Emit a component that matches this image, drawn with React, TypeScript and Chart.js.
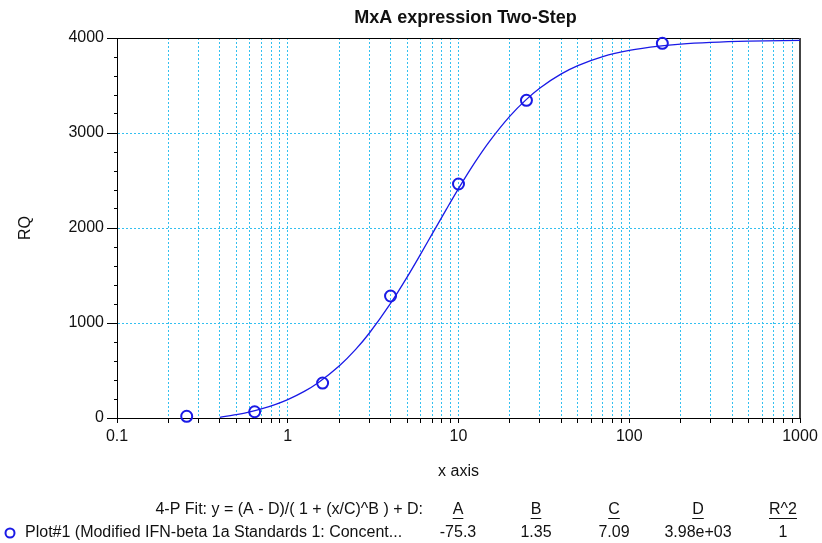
import React, { useEffect, useRef } from 'react';
import { Chart, registerables } from 'chart.js';

Chart.register(...registerables);

// ---- text ----
const chartTitle = 'MxA expression Two-Step';
const xAxisTitle = 'x axis';
const yAxisTitle = 'RQ';
const fitFormula = '4-P Fit: y = (A - D)/( 1 + (x/C)^B ) + D:';
const plotName = 'Plot#1 (Modified IFN-beta 1a Standards 1: Concent...';
const fitParamHeaders = ['A', 'B', 'C', 'D', 'R^2'];
const fitParamValues = ['-75.3', '1.35', '7.09', '3.98e+03', '1'];

// ---- data: standards (circles) ----
const standardX = [0.256, 0.64, 1.6, 4, 10, 25, 156.25];
const standardRQ = [18, 66, 368, 1284, 2463, 3344, 3944];

// ---- data: fitted curve ----
const fitX = [0.4, 0.5, 0.6, 0.7, 0.85, 1, 1.25, 1.5, 2, 2.5, 3, 4, 5, 6, 7, 8.5, 10, 12.5, 15, 20, 25, 30, 40, 50, 70, 100, 150, 200, 300, 500, 1000];
const fitY = [7, 35, 64, 95, 144, 194, 280, 369, 547, 722, 892, 1206, 1483, 1725, 1935, 2199, 2415, 2693, 2899, 3178, 3354, 3474, 3622, 3709, 3804, 3869, 3915, 3936, 3954, 3967, 3975];

// ---- ticks ----
const xTickValues = [
  0.1, 0.2, 0.3, 0.4, 0.5, 0.6, 0.7, 0.8, 0.9,
  1, 2, 3, 4, 5, 6, 7, 8, 9,
  10, 20, 30, 40, 50, 60, 70, 80, 90,
  100, 200, 300, 400, 500, 600, 700, 800, 900,
  1000,
];
const xMajorValues = [0.1, 1, 10, 100, 1000];
const xMajorLabels = ['0.1', '1', '10', '100', '1000'];
const yTickValues = [0, 200, 400, 600, 800, 1000, 1200, 1400, 1600, 1800, 2000, 2200, 2400, 2600, 2800, 3000, 3200, 3400, 3600, 3800, 4000];
const yMajorValues = [0, 1000, 2000, 3000, 4000];
const yMajorLabels = ['0', '1000', '2000', '3000', '4000'];

const FONT = "'Liberation Sans', Arial, Helvetica, sans-serif";
const BLUE = '#1a1ae6';
const GRID = '#33c0f0';
const CLEAR = 'rgba(0,0,0,0)';

const decorPlugin = {
  id: 'decor',
  beforeDatasetsDraw(chart: any) {
    const { ctx, chartArea } = chart;
    ctx.save();
    ctx.strokeStyle = '#000';
    ctx.lineWidth = 1;
    ctx.beginPath();
    ctx.moveTo(chartArea.left, chartArea.top + 0.5);
    ctx.lineTo(chartArea.right, chartArea.top + 0.5);
    ctx.stroke();
    ctx.strokeStyle = '#444';
    ctx.lineWidth = 2;
    ctx.beginPath();
    ctx.moveTo(chartArea.right, chartArea.top);
    ctx.lineTo(chartArea.right, chartArea.bottom);
    ctx.stroke();
    ctx.restore();
  },
  afterDraw(chart: any) {
    const { ctx, chartArea } = chart;
    ctx.save();
    ctx.fillStyle = '#111';
    // title
    ctx.font = `bold 18px ${FONT}`;
    ctx.textAlign = 'center';
    ctx.textBaseline = 'middle';
    ctx.fillText(chartTitle, (chartArea.left + chartArea.right) / 2 + 7, 18);

    // fit table
    ctx.font = `16px ${FONT}`;
    ctx.textAlign = 'right';
    ctx.fillText(fitFormula, 423, 510);
    const colX = [458, 536, 614, 698, 783];
    ctx.textAlign = 'center';
    ctx.strokeStyle = '#111';
    ctx.lineWidth = 1;
    fitParamHeaders.forEach((h, i) => {
      ctx.fillText(h, colX[i], 510);
      const w = ctx.measureText(h).width;
      ctx.beginPath();
      ctx.moveTo(colX[i] - w / 2, 518.5);
      ctx.lineTo(colX[i] + w / 2, 518.5);
      ctx.stroke();
    });
    fitParamValues.forEach((v, i) => {
      ctx.fillText(v, colX[i], 533);
    });
    ctx.textAlign = 'left';
    ctx.fillText(plotName, 25, 533);
    // legend marker
    ctx.strokeStyle = BLUE;
    ctx.lineWidth = 2;
    ctx.beginPath();
    ctx.arc(10, 533, 4.5, 0, Math.PI * 2);
    ctx.stroke();
    ctx.restore();
  },
};

export default function App() {
  const canvasRef = useRef<HTMLCanvasElement | null>(null);

  useEffect(() => {
    document.body.style.margin = '0';
    const canvas = canvasRef.current;
    if (!canvas) return;
    const chart = new Chart(canvas, {
      type: 'line',
      data: {
        datasets: [
          {
            label: 'Standards',
            data: standardX.map((x, i) => ({ x, y: standardRQ[i] })),
            showLine: false,
            pointRadius: 5.5,
            pointBorderWidth: 2,
            pointBorderColor: BLUE,
            pointBackgroundColor: CLEAR,
            pointStyle: 'circle',
            clip: false,
          },
          {
            label: 'Fit',
            data: fitX.map((x, i) => ({ x, y: fitY[i] })),
            borderColor: BLUE,
            borderWidth: 1.3,
            pointRadius: 0,
            cubicInterpolationMode: 'monotone',
            fill: false,
          },
        ],
      },
      options: {
        responsive: false,
        animation: false,
        devicePixelRatio: 1,
        layout: { padding: { left: 0, right: 22, top: 38, bottom: 0 } },
        plugins: {
          legend: { display: false },
          tooltip: { enabled: false },
          title: { display: false },
        },
        scales: {
          x: {
            type: 'logarithmic',
            min: 0.1,
            max: 1000,
            afterBuildTicks: (scale: any) => {
              scale.ticks = xTickValues.map((v) => ({ value: v, major: xMajorValues.includes(v) }));
            },
            afterFit: (scale: any) => {
              scale.height = 125;
            },
            ticks: {
              autoSkip: false,
              maxRotation: 0,
              minRotation: 0,
              padding: 4,
              color: '#111',
              font: { family: FONT, size: 16 },
              callback: (value: any) => {
                const i = xMajorValues.indexOf(Number(value));
                return i >= 0 ? xMajorLabels[i] : '';
              },
            },
            grid: {
              color: (c: any) => {
                const v = c.tick ? c.tick.value : null;
                return v === 0.1 || v === 1000 ? CLEAR : GRID;
              },
              lineWidth: 1,
              drawTicks: true,
              tickLength: 5,
              tickColor: '#000',
              tickWidth: 1,
              tickBorderDash: [],
            },
            border: { display: true, color: '#000', width: 1, dash: [2, 2] },
            title: {
              display: true,
              text: xAxisTitle,
              color: '#111',
              font: { family: FONT, size: 16 },
              padding: { top: 0, bottom: 62 },
            },
          },
          y: {
            type: 'linear',
            min: 0,
            max: 4000,
            afterBuildTicks: (scale: any) => {
              scale.ticks = yTickValues.map((v) => ({ value: v }));
            },
            afterFit: (scale: any) => {
              scale.width = 117;
            },
            ticks: {
              autoSkip: false,
              padding: 3,
              color: '#111',
              font: { family: FONT, size: 16 },
              callback: (value: any) => {
                const i = yMajorValues.indexOf(Number(value));
                return i >= 0 ? yMajorLabels[i] : '';
              },
            },
            grid: {
              color: (c: any) => {
                const v = c.tick ? c.tick.value : null;
                return v === 1000 || v === 2000 || v === 3000 ? GRID : CLEAR;
              },
              lineWidth: 1,
              drawTicks: true,
              tickLength: 10,
              tickColor: '#000',
              tickWidth: 1,
              tickBorderDash: (c: any) => {
                const v = c.tick ? c.tick.value : 0;
                return yMajorValues.includes(v) ? [] : [0, 7, 3, 100];
              },
            },
            border: { display: true, color: '#000', width: 1, dash: [2, 2] },
            title: {
              display: true,
              text: yAxisTitle,
              color: '#111',
              font: { family: FONT, size: 16 },
              padding: { top: 16, bottom: 0 },
            },
          },
        },
      },
      plugins: [decorPlugin],
    } as any);
    return () => {
      chart.destroy();
    };
  }, []);

  return (
    <div style={{ width: 822, height: 543, background: '#fff' }}>
      <canvas ref={canvasRef} width={822} height={543} style={{ display: 'block', width: 822, height: 543 }} />
    </div>
  );
}
